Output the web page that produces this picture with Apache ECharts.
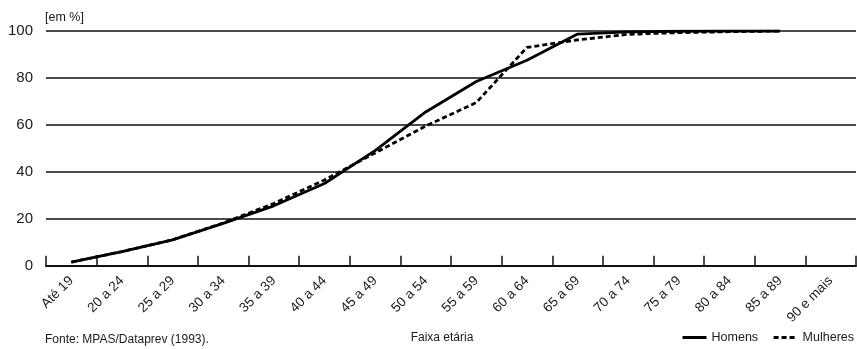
<!DOCTYPE html>
<html>
<head>
<meta charset="utf-8">
<script src="https://cdn.jsdelivr.net/npm/echarts@6/dist/echarts.min.js"></script>
<style>html,body{margin:0;padding:0;background:#fff}#c{width:857px;height:349px}</style>
</head>
<body>
<div id="c"></div>
<script>
const categories = ['Até 19','20 a 24','25 a 29','30 a 34','35 a 39','40 a 44','45 a 49','50 a 54','55 a 59','60 a 64','65 a 69','70 a 74','75 a 79','80 a 84','85 a 89','90 e mais'];
const homens = [1.5, 6, 11, 18, 25.5, 35, 49, 65.5, 78.5, 87.5, 98.7, 99.6, 99.9, 100, 100, null];
const mulheres = [1.5, 6, 11, 18.2, 26.5, 36.5, 48, 59.5, 69.5, 93, 96.2, 98.6, 99.3, 99.7, 100, null];
const yTicks = [0, 20, 40, 60, 80, 100];

const FONT = '"Liberation Sans", Arial, sans-serif';
const TXT = '#1a1a1a';
const chart = echarts.init(document.getElementById('c'), null, {renderer: 'canvas'});
chart.setOption({
  animation: false,
  backgroundColor: '#fff',
  textStyle: {fontFamily: FONT, color: TXT},
  title: [
    {text: '[em %]', left: 45, top: 11, padding: 0, textStyle: {fontFamily: FONT, fontSize: 12.5, fontWeight: 'normal', color: TXT}},
    {text: 'Fonte: MPAS/Dataprev (1993).', left: 45, top: 334, padding: 0, textStyle: {fontFamily: FONT, fontSize: 12, fontWeight: 'normal', color: TXT}}
  ],
  legend: {
    right: 3, top: 331, padding: 0, itemWidth: 24, itemHeight: 12, itemGap: 14,
    itemStyle: {opacity: 0},
    lineStyle: {width: 3, color: '#000'},
    textStyle: {fontFamily: FONT, fontSize: 12.5, color: TXT},
    data: ['Homens', 'Mulheres']
  },
  grid: {left: 46, right: 1, top: 31, bottom: 76, containLabel: false},
  xAxis: {
    type: 'category', data: categories, boundaryGap: true,
    name: 'Faixa etária', nameLocation: 'middle', nameGap: 44,
    nameTextStyle: {fontFamily: FONT, fontSize: 12, color: TXT, padding: [0, 18, 0, 0]},
    axisLine: {lineStyle: {color: '#111', width: 2}},
    axisTick: {show: true, inside: true, length: 10, interval: 0, lineStyle: {color: '#111', width: 1.5}},
    axisLabel: {rotate: 45, interval: 0, margin: 13, fontFamily: FONT, fontSize: 13.5, color: TXT}
  },
  yAxis: {
    type: 'value', min: 0, max: 100, interval: 20,
    axisLine: {show: false}, axisTick: {show: false},
    axisLabel: {margin: 13, fontFamily: FONT, fontSize: 15, color: TXT,
      formatter: v => yTicks.includes(v) ? String(v) : ''},
    splitLine: {show: true, lineStyle: {color: '#111', width: 1.5}}
  },
  series: [
    {name: 'Homens', type: 'line', data: homens, symbol: 'none', connectNulls: false,
     lineStyle: {color: '#000', width: 2.8, type: 'solid'}, itemStyle: {color: '#000'}, z: 3},
    {name: 'Mulheres', type: 'line', data: mulheres, symbol: 'none', connectNulls: false,
     lineStyle: {color: '#000', width: 2.8, type: [5, 3]}, itemStyle: {color: '#000'}, z: 4}
  ]
});
</script>
</body>
</html>
